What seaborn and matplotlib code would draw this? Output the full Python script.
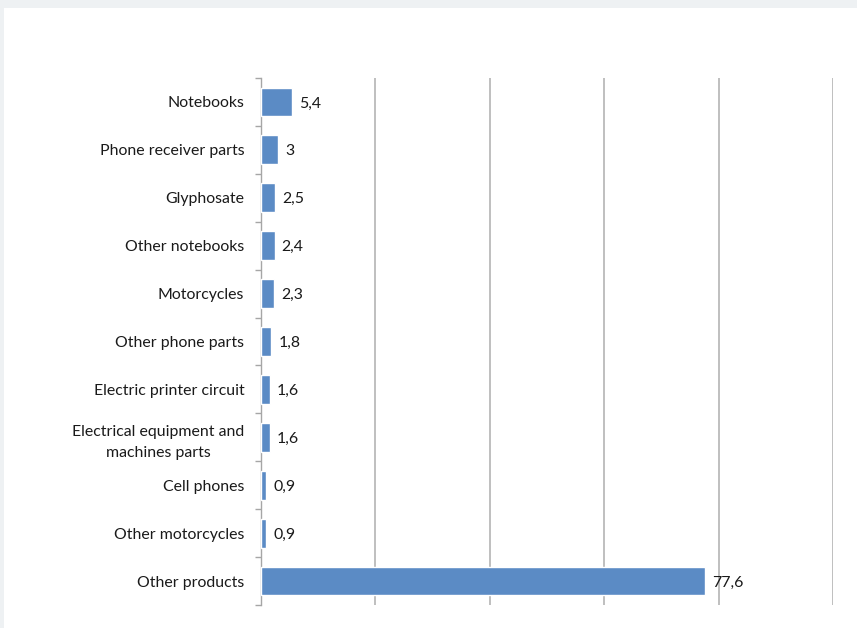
import matplotlib
matplotlib.use("Agg")
import matplotlib.pyplot as plt
import seaborn as sns
import pandas as pd
from matplotlib.patches import Rectangle

products = [
    "Notebooks",
    "Phone receiver parts",
    "Glyphosate",
    "Other notebooks",
    "Motorcycles",
    "Other phone parts",
    "Electric printer circuit",
    "Electrical equipment and\nmachines parts",
    "Cell phones",
    "Other motorcycles",
    "Other products",
]
shares = [5.4, 3, 2.5, 2.4, 2.3, 1.8, 1.6, 1.6, 0.9, 0.9, 77.6]

df = pd.DataFrame({"product": products, "share": shares})

sns.set_theme(style="white")
plt.rcParams["font.family"] = ["Lato", "DejaVu Sans"]

fig = plt.figure(figsize=(8.57, 6.28), dpi=100, facecolor="#eef1f3")
# white slide panel
fig.patches.append(Rectangle((4 / 857, 0), 1, 1 - 8 / 628, transform=fig.transFigure,
                             facecolor="white", edgecolor="none", zorder=-1))

ax = fig.add_axes([261 / 857, 1 - 605 / 628, (833 - 261) / 857, (605 - 78) / 628])
ax.set_zorder(2)
ax.set_facecolor("none")

sns.barplot(data=df, y="product", x="share", orient="h", color="#5b8bc5",
            saturation=1, width=0.6, ax=ax, zorder=3)

ax.set_xlim(0, 100)
ax.set_xticks([0, 20, 40, 60, 80, 100])
ax.set_xticklabels([])
ax.tick_params(axis="x", length=0)
ax.xaxis.grid(True, color="#bfbfbf", linewidth=1.4)
ax.set_axisbelow(True)

for side in ["top", "right", "bottom"]:
    ax.spines[side].set_visible(False)
ax.spines["left"].set_color("#a6a6a6")
ax.spines["left"].set_linewidth(1.0)

ax.set_xlabel("")
ax.set_ylabel("")
ax.set_ylim(len(products) - 0.5, -0.5)

# category labels with boundary tick marks
ax.set_yticks(range(len(products)))
ax.set_yticklabels(products, fontsize=11.4, color="#1a1a1a",
                   multialignment="center", linespacing=1.65)
ax.tick_params(axis="y", length=0, pad=12)
ax.set_yticks([i - 0.5 for i in range(len(products) + 1)], minor=True)
ax.tick_params(axis="y", which="minor", length=4, color="#a6a6a6", width=1.0, left=True)

labels = [f"{v:g}".replace(".", ",") for v in shares]
texts = ax.bar_label(ax.containers[0], labels=labels, padding=5, fontsize=11.4,
                     color="#1a1a1a")
for t in texts:
    t.set_va("center_baseline")

fig.savefig("out.png", dpi=100, facecolor=fig.get_facecolor())
